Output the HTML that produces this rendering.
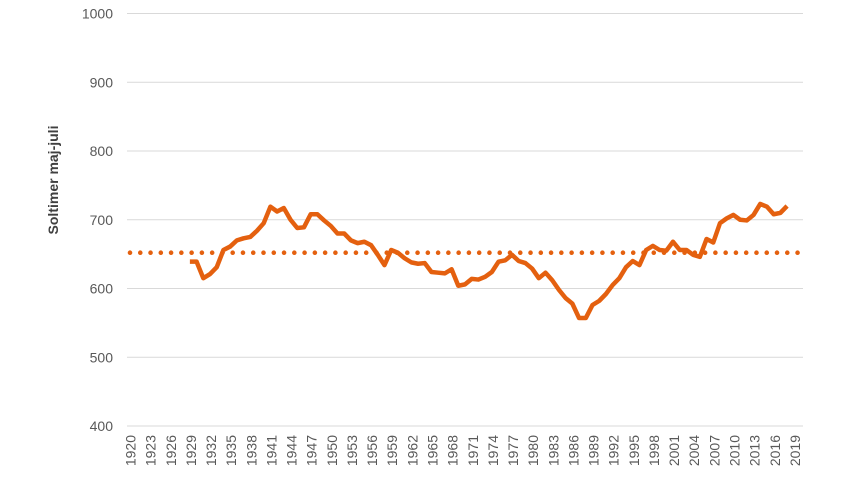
<!DOCTYPE html>
<html>
<head>
<meta charset="utf-8">
<style>
  html,body{margin:0;padding:0;background:#fff;}
  svg{display:block;}
  text{font-family:"Liberation Sans",Arial,sans-serif;}
</style>
</head>
<body>
<svg width="850" height="478" viewBox="0 0 850 478" xmlns="http://www.w3.org/2000/svg">
  <rect width="850" height="478" fill="#fff"/>
  <!-- gridlines -->
  <g stroke="#d9d9d9" stroke-width="1">
    <line x1="127" y1="13.5" x2="803" y2="13.5"/>
    <line x1="127" y1="82.3" x2="803" y2="82.3"/>
    <line x1="127" y1="151" x2="803" y2="151"/>
    <line x1="127" y1="219.8" x2="803" y2="219.8"/>
    <line x1="127" y1="288.5" x2="803" y2="288.5"/>
    <line x1="127" y1="357.3" x2="803" y2="357.3"/>
    <line x1="127" y1="426" x2="803" y2="426"/>
  </g>
  <!-- y labels -->
  <g fill="#595959" font-size="14" text-anchor="end">
    <text x="113" y="18.5">1000</text>
    <text x="113" y="87.3">900</text>
    <text x="113" y="156">800</text>
    <text x="113" y="224.8">700</text>
    <text x="113" y="293.5">600</text>
    <text x="113" y="362.3">500</text>
    <text x="113" y="431">400</text>
  </g>
  <!-- axis title -->
  <text transform="translate(58,180) rotate(-90)" text-anchor="middle" font-size="14" font-weight="bold" fill="#404040">Soltimer maj-juli</text>
  <!-- dotted mean line -->
  <line x1="130" y1="252.7" x2="800" y2="252.7" stroke="#e4600f" stroke-width="4.6" stroke-linecap="round" stroke-dasharray="0 10.27"/>
  <!-- data line -->
  <g transform="translate(129.5,426) scale(6.71,-0.6875)">
    <polyline fill="none" stroke="#e4600f" stroke-width="4.5" stroke-linejoin="round" stroke-linecap="butt" vector-effect="non-scaling-stroke"
      points="9,239 10,239 11,215 12,221 13,231 14,256 15,261 16,270 17,273 18,275 19,284 20,295 21,319 22,312 23,317 24,300 25,288 26,289 27,308 28,308 29,299 30,291 31,280 32,280 33,270 34,266 35,268 36,263 37,249 38,234 39,256 40,252 41,244 42,238 43,236 44,237 45,224 46,223 47,222 48,228 49,204 50,206 51,214 52,213 53,217 54,224 55,239 56,241 57,249 58,240 59,237 60,229 61,215 62,223 63,212 64,198 65,186 66,178 67,157 68,157 69,176 70,182 71,192 72,205 73,215 74,231 75,240 76,234 77,256 78,262 79,256 80,255 81,268 82,256 83,256 84,249 85,246 86,272 87,267 88,295 89,302 90,307 91,300 92,299 93,307 94,323 95,319 96,308 97,310 98,320"/>
  </g>
  <!-- x labels -->
  <g fill="#595959" font-size="14" text-anchor="end">
    <text transform="translate(135.5,435) rotate(-90)">1920</text>
    <text transform="translate(155.6,435) rotate(-90)">1923</text>
    <text transform="translate(175.8,435) rotate(-90)">1926</text>
    <text transform="translate(195.9,435) rotate(-90)">1929</text>
    <text transform="translate(216.0,435) rotate(-90)">1932</text>
    <text transform="translate(236.2,435) rotate(-90)">1935</text>
    <text transform="translate(256.3,435) rotate(-90)">1938</text>
    <text transform="translate(276.4,435) rotate(-90)">1941</text>
    <text transform="translate(296.6,435) rotate(-90)">1944</text>
    <text transform="translate(316.7,435) rotate(-90)">1947</text>
    <text transform="translate(336.8,435) rotate(-90)">1950</text>
    <text transform="translate(357.0,435) rotate(-90)">1953</text>
    <text transform="translate(377.1,435) rotate(-90)">1956</text>
    <text transform="translate(397.2,435) rotate(-90)">1959</text>
    <text transform="translate(417.4,435) rotate(-90)">1962</text>
    <text transform="translate(437.5,435) rotate(-90)">1965</text>
    <text transform="translate(457.6,435) rotate(-90)">1968</text>
    <text transform="translate(477.8,435) rotate(-90)">1971</text>
    <text transform="translate(497.9,435) rotate(-90)">1974</text>
    <text transform="translate(518.0,435) rotate(-90)">1977</text>
    <text transform="translate(538.2,435) rotate(-90)">1980</text>
    <text transform="translate(558.3,435) rotate(-90)">1983</text>
    <text transform="translate(578.4,435) rotate(-90)">1986</text>
    <text transform="translate(598.6,435) rotate(-90)">1989</text>
    <text transform="translate(618.7,435) rotate(-90)">1992</text>
    <text transform="translate(638.8,435) rotate(-90)">1995</text>
    <text transform="translate(659.0,435) rotate(-90)">1998</text>
    <text transform="translate(679.1,435) rotate(-90)">2001</text>
    <text transform="translate(699.2,435) rotate(-90)">2004</text>
    <text transform="translate(719.4,435) rotate(-90)">2007</text>
    <text transform="translate(739.5,435) rotate(-90)">2010</text>
    <text transform="translate(759.6,435) rotate(-90)">2013</text>
    <text transform="translate(779.8,435) rotate(-90)">2016</text>
    <text transform="translate(799.9,435) rotate(-90)">2019</text>
  </g>
</svg>
</body>
</html>
